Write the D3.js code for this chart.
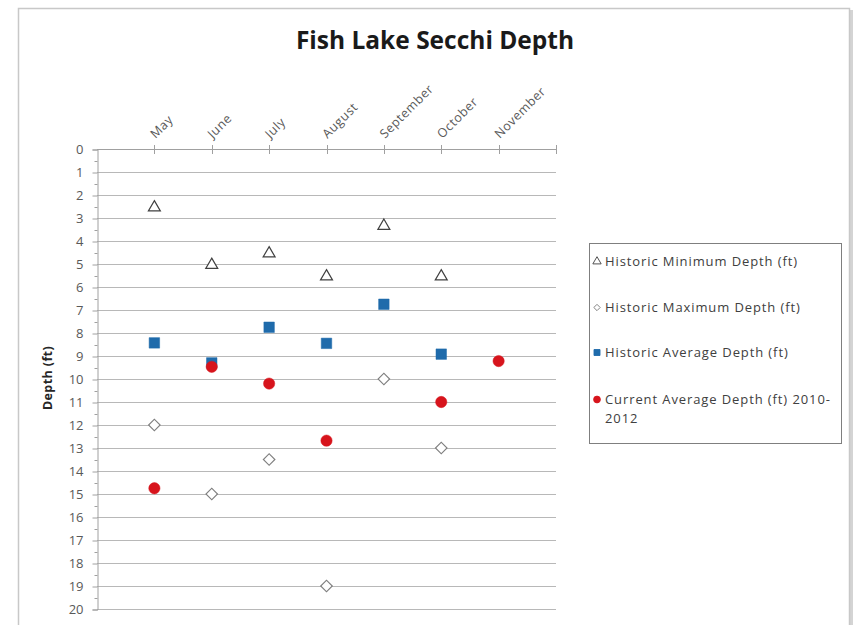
<!DOCTYPE html>
<html>
<head>
<meta charset="utf-8">
<script src="https://cdn.jsdelivr.net/npm/d3@7"></script>
<style>
  html, body { margin: 0; padding: 0; background: #ffffff; }
  svg { display: block; }
</style>
</head>
<body>
<svg id="chart" width="857" height="625"></svg>
<script>
// Monthly Secchi depth readings for Fish Lake (ft)
const months = ["May", "June", "July", "August", "September", "October", "November"];
const historicMin = [2.5, 5.0, 4.5, 5.5, 3.3, 5.5, null];
const historicMax = [12.0, 15.0, 13.5, 19.0, 10.0, 13.0, null];
const historicAvg = [8.43, 9.3, 7.75, 8.45, 6.75, 8.92, null];
const currentAvg = [14.75, 9.47, 10.2, 12.68, null, 11.0, 9.22];
const depthTicks = d3.range(0, 21);

const seriesNames = [
  "Historic Minimum Depth (ft)",
  "Historic Maximum Depth (ft)",
  "Historic Average Depth (ft)",
  "Current Average Depth (ft) 2010-2012"
];

const svg = d3.select("#chart");
const font = "'Open Sans', 'Liberation Sans', sans-serif";

// chart area frame with a soft shadow on the right
svg.append("rect").attr("x", 849).attr("y", 10).attr("width", 4).attr("height", 615).attr("fill", "#d4d4d4");
svg.append("rect").attr("x", 18.5).attr("y", 8.5).attr("width", 831).attr("height", 640)
  .attr("fill", "#ffffff").attr("stroke", "#c8c8c8").attr("stroke-width", 1.5);

const plot = { left: 97, right: 556, top: 149, bottom: 609 };

const x = d3.scalePoint().domain(months).range([plot.left, plot.right]).padding(1);
const y = d3.scaleLinear().domain([0, 20]).range([plot.top, plot.bottom]);

// title
svg.append("text")
  .attr("x", 435).attr("y", 49)
  .attr("text-anchor", "middle")
  .attr("font-family", font).attr("font-weight", "bold").attr("font-size", 24.5)
  .attr("fill", "#1a1a1a")
  .text("Fish Lake Secchi Depth");

// horizontal gridlines
svg.append("g").selectAll("line").data(depthTicks.filter(d => d > 0)).join("line")
  .attr("x1", plot.left).attr("x2", plot.right)
  .attr("y1", d => Math.round(y(d)) + 0.5).attr("y2", d => Math.round(y(d)) + 0.5)
  .attr("stroke", "#b8b8b8").attr("stroke-width", 1);

// left depth axis
const yAxis = d3.axisLeft(y).tickValues(depthTicks).tickSize(5).tickPadding(9);
const gy = svg.append("g").attr("transform", `translate(${plot.left + 0.5},0.5)`).call(yAxis);
gy.select(".domain").attr("stroke", "#a0a0a0");
gy.selectAll(".tick line").attr("stroke", "#a0a0a0");
gy.selectAll(".tick text").attr("font-family", font).attr("font-size", 13).attr("fill", "#595959");
// minor ticks at half feet
const yMinor = d3.axisLeft(y).tickValues(d3.range(0.5, 20, 1)).tickSize(3).tickFormat("");
const gyMinor = svg.append("g").attr("transform", `translate(${plot.left + 0.5},0.5)`).call(yMinor);
gyMinor.select(".domain").remove();
gyMinor.selectAll(".tick line").attr("stroke", "#a0a0a0");

// top month axis crossing at depth 0
const xTickPositions = months.map(m => x(m)).concat([plot.right]);
const gx = svg.append("g");
gx.append("line")
  .attr("x1", plot.left).attr("x2", plot.right)
  .attr("y1", y(0) + 0.5).attr("y2", y(0) + 0.5)
  .attr("stroke", "#a0a0a0");
gx.selectAll("line.tk").data(xTickPositions).join("line").attr("class", "tk")
  .attr("x1", d => Math.round(d) + 0.5).attr("x2", d => Math.round(d) + 0.5)
  .attr("y1", y(0) - 4).attr("y2", y(0) + 5)
  .attr("stroke", "#a0a0a0");
gx.selectAll("text").data(months).join("text")
  .attr("transform", d => `translate(${x(d) + 1},${y(0) - 10}) rotate(-45)`)
  .attr("font-family", font).attr("font-size", 12.5).attr("letter-spacing", 0.6)
  .attr("fill", "#595959")
  .text(d => d);

// axis title
svg.append("text")
  .attr("transform", `translate(52,378) rotate(-90)`)
  .attr("text-anchor", "middle")
  .attr("font-family", font).attr("font-weight", "bold").attr("font-size", 12.5)
  .attr("letter-spacing", 0.4)
  .attr("fill", "#262626")
  .text("Depth (ft)");

// marker styles per series
const styles = [
  { type: d3.symbolTriangle, size: 62, rot: 0, fill: "#ffffff", stroke: "#404040", sw: 1.2 },
  { type: d3.symbolSquare, size: 66, rot: 45, fill: "#ffffff", stroke: "#7f7f7f", sw: 1.2 },
  { type: d3.symbolSquare, size: 110, rot: 0, fill: "#1f6bab", stroke: "#1f6bab", sw: 0.5 },
  { type: d3.symbolCircle, size: 100, rot: 0, fill: "#d7141c", stroke: "#d7141c", sw: 0.5 }
];
const seriesData = [historicMin, historicMax, historicAvg, currentAvg];

seriesData.forEach((vals, i) => {
  const st = styles[i];
  const pts = months.map((m, j) => ({ m, v: vals[j] })).filter(d => d.v != null);
  svg.append("g").selectAll("path").data(pts).join("path")
    .attr("transform", d => `translate(${x(d.m)},${y(d.v) + (i === 0 ? 1 : 0)}) rotate(${st.rot})`)
    .attr("d", d3.symbol().type(st.type).size(st.size))
    .attr("fill", st.fill).attr("stroke", st.stroke).attr("stroke-width", st.sw);
});

// legend
const lg = svg.append("g");
lg.append("rect").attr("x", 589.5).attr("y", 243.5).attr("width", 252).attr("height", 200)
  .attr("fill", "#ffffff").attr("stroke", "#7f7f7f").attr("stroke-width", 1);
const legendY = [266, 312, 357, 404];
const legendSizes = [30, 20, 36, 36];
seriesNames.forEach((name, i) => {
  const st = styles[i];
  lg.append("path")
    .attr("transform", `translate(597,${legendY[i] - 4.5}) rotate(${st.rot})`)
    .attr("d", d3.symbol().type(st.type).size(legendSizes[i]))
    .attr("fill", st.fill).attr("stroke", st.stroke).attr("stroke-width", 0.9);
  const t = lg.append("text")
    .attr("x", 605).attr("y", legendY[i])
    .attr("font-family", font).attr("font-size", 13).attr("letter-spacing", 0.9)
    .attr("fill", "#404040");
  if (i === 3) {
    t.append("tspan").text("Current Average Depth (ft) 2010-");
    t.append("tspan").attr("x", 605).attr("dy", 19).text("2012");
  } else {
    t.text(name);
  }
});
</script>
</body>
</html>
